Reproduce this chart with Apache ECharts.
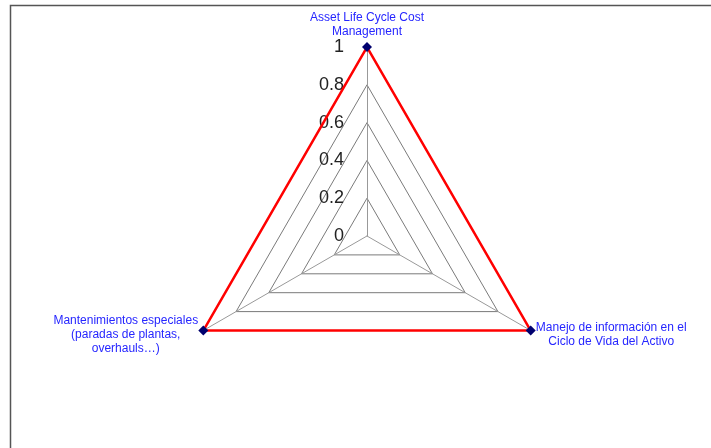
<!DOCTYPE html>
<html>
<head>
<meta charset="utf-8">
<script src="https://cdn.jsdelivr.net/npm/echarts@6/dist/echarts.min.js"></script>
<style>
  html, body { margin: 0; padding: 0; background: #fff; }
  #chart { width: 711px; height: 448px; }
</style>
</head>
<body>
<div id="chart"></div>
<script>
// indicator names (top, then counter-clockwise)
const indicators = [
  "Asset Life Cycle Cost\nManagement",
  "Mantenimientos especiales\n(paradas de plantas,\noverhauls…)",
  "Manejo de información en el\nCiclo de Vida del Activo"
];
const values = [1, 1, 1];
const axisMin = 0;
const axisMax = 1;

const chart = echarts.init(document.getElementById("chart"));

chart.setOption({
  animation: false,
  // frame around the plot
  graphic: [
    {
      type: "rect",
      shape: { x: 10.5, y: 5.5, width: 800, height: 600 },
      style: { fill: "none", stroke: "#555", lineWidth: 1.5 },
      silent: true
    }
  ],
  radar: {
    center: [367, 236],
    radius: 189,
    shape: "polygon",
    splitNumber: 5,
    nameGap: 6,
    axisName: {
      padding: [3, 0, 0, 0],
      formatter: function (name) {
        return name.split("\n").map(function (l) { return "{c|" + l + "}"; }).join("\n");
      },
      rich: {
        c: {
          align: "center",
          color: "#2626ff",
          fontSize: 12,
          lineHeight: 14,
          fontFamily: "Liberation Sans"
        }
      }
    },
    indicator: indicators.map(function (n, i) {
      const ind = { name: n, min: axisMin, max: axisMax };
      if (i === 0) {
        ind.axisLabel = {
          show: true,
          margin: 23,
          color: "#222",
          fontSize: 18,
          fontFamily: "Liberation Sans"
        };
      }
      return ind;
    }),
    axisLine: { lineStyle: { color: "#999", width: 1 } },
    splitLine: { lineStyle: { color: "#7a7a7a", width: 1 } },
    splitArea: { show: false },
    axisTick: { show: false }
  },
  series: [
    {
      type: "radar",
      symbol: "diamond",
      symbolSize: 10,
      itemStyle: { color: "#00006e" },
      lineStyle: { color: "#ff0000", width: 2.5 },
      data: [{ value: values }]
    }
  ]
});
</script>
</body>
</html>
